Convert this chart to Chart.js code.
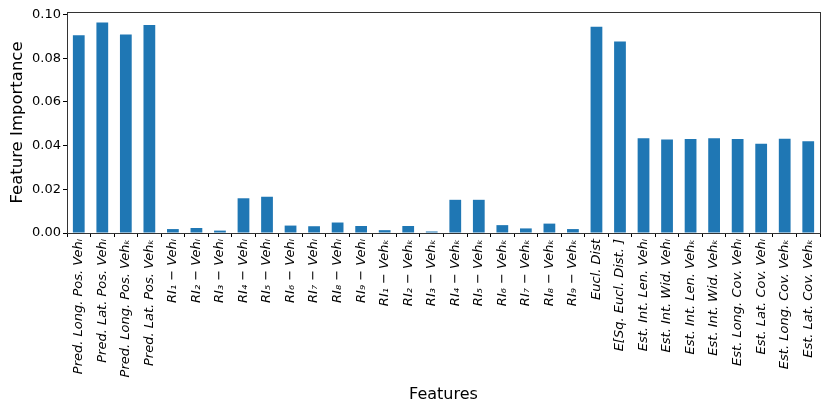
<!DOCTYPE html>
<html>
<head>
<meta charset="utf-8">
<script src="https://cdn.jsdelivr.net/npm/chart.js@4.4.0/dist/chart.umd.min.js"></script>
<style>
  html, body { margin: 0; padding: 0; background: #fff; }
  #wrap { width: 830px; height: 415px; }
</style>
</head>
<body>
<div id="wrap"><canvas id="chart"></canvas></div>
<script>
// feature names (subscripts as unicode)
const features = [
    'Pred. Long. Pos. Vehᵢ', 'Pred. Lat. Pos. Vehᵢ', 'Pred. Long. Pos. Vehₖ', 'Pred. Lat. Pos. Vehₖ',
    'RI₁ − Vehᵢ', 'RI₂ − Vehᵢ', 'RI₃ − Vehᵢ', 'RI₄ − Vehᵢ', 'RI₅ − Vehᵢ',
    'RI₆ − Vehᵢ', 'RI₇ − Vehᵢ', 'RI₈ − Vehᵢ', 'RI₉ − Vehᵢ',
    'RI₁ − Vehₖ', 'RI₂ − Vehₖ', 'RI₃ − Vehₖ', 'RI₄ − Vehₖ', 'RI₅ − Vehₖ',
    'RI₆ − Vehₖ', 'RI₇ − Vehₖ', 'RI₈ − Vehₖ', 'RI₉ − Vehₖ',
    'Eucl. Dist', 'E[Sq. Eucl. Dist. ]',
    'Est. Int. Len. Vehᵢ', 'Est. Int. Wid. Vehᵢ', 'Est. Int. Len. Vehₖ', 'Est. Int. Wid. Vehₖ',
    'Est. Long. Cov. Vehᵢ', 'Est. Lat. Cov. Vehᵢ', 'Est. Long. Cov. Vehₖ', 'Est. Lat. Cov. Vehₖ'
];

const importance = [
    0.0905, 0.0964, 0.0909, 0.0952,
    0.0018, 0.0023, 0.0011, 0.0159, 0.0166,
    0.0034, 0.0031, 0.0048, 0.0032,
    0.0013, 0.0032, 0.0007, 0.0152, 0.0152,
    0.0036, 0.0021, 0.0043, 0.0018,
    0.0945, 0.0877,
    0.0434, 0.0428, 0.0430, 0.0434,
    0.0430, 0.0409, 0.0432, 0.0420
];

const yTicks = [0.00, 0.02, 0.04, 0.06, 0.08, 0.10];
const yMax = 0.1012;

// matplotlib-like frame around the plot area
const framePlugin = {
    id: 'frame',
    afterDraw(chart) {
        const { ctx, chartArea: a } = chart;
        ctx.save();
        ctx.strokeStyle = '#333';
        ctx.lineWidth = 1;
        ctx.strokeRect(Math.round(a.left) + 0.5, Math.round(a.top) + 0.5,
                       Math.round(a.right - a.left), Math.round(a.bottom - a.top));
        ctx.restore();
    }
};

new Chart(document.getElementById('chart'), {
    type: 'bar',
    data: {
        labels: features,
        datasets: [{
            data: importance,
            backgroundColor: '#1f77b4',
            borderWidth: 0,
            barPercentage: 0.5,
            categoryPercentage: 1.0
        }]
    },
    options: {
        responsive: true,
        maintainAspectRatio: false,
        animation: false,
        layout: { padding: { left: 0, top: 12, right: 10, bottom: 0 } },
        plugins: {
            legend: { display: false },
            tooltip: { enabled: false }
        },
        scales: {
            x: {
                grid: { drawOnChartArea: false, drawTicks: true, tickLength: 4, color: '#000' },
                border: { display: false },
                ticks: {
                    autoSkip: false,
                    maxRotation: 90,
                    minRotation: 90,
                    padding: 2,
                    color: '#000',
                    font: { family: 'DejaVu Sans', size: 13, style: 'italic' }
                },
                title: {
                    display: true,
                    text: 'Features',
                    color: '#000',
                    font: { family: 'DejaVu Sans', size: 16 },
                    padding: { top: 0, bottom: 11 }
                },
                afterFit(scale) { scale.height = 182; }
            },
            y: {
                min: 0,
                max: yMax,
                afterBuildTicks(scale) { scale.ticks = yTicks.map(v => ({ value: v })); },
                grid: { drawOnChartArea: false, drawTicks: true, tickLength: 4, color: '#000' },
                border: { display: false },
                ticks: {
                    padding: 2,
                    color: '#000',
                    font: { family: 'DejaVu Sans', size: 13 },
                    callback: v => v.toFixed(2)
                },
                title: {
                    display: true,
                    text: 'Feature Importance',
                    color: '#000',
                    font: { family: 'DejaVu Sans', size: 16.5 },
                    padding: { top: 8, bottom: 4 }
                },
                afterFit(scale) { scale.width = 67; }
            }
        }
    },
    plugins: [framePlugin]
});
</script>
</body>
</html>
